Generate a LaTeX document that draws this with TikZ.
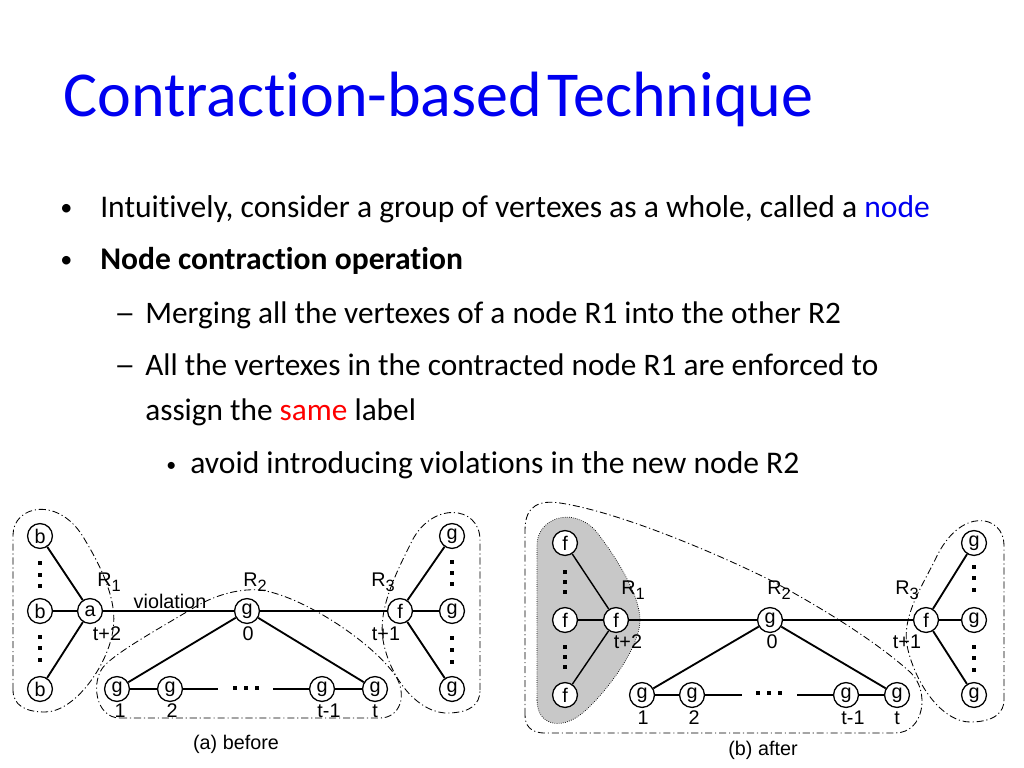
\documentclass[tikz,border=0pt]{standalone}
\usepackage{fontspec}
\setmainfont{Carlito}[Ligatures=NoCommon]
\newfontfamily\diag{Liberation Sans}
\newcommand\Rsub[1]{R\raisebox{-0.45ex}{\fontsize{11.5}{11.5}\selectfont #1}}
\newcommand\sqdot[2]{\fill (#1-2,#2-2) rectangle ++(4,4);}
\definecolor{titleblue}{RGB}{0,0,240}
\definecolor{shade}{RGB}{200,200,200}
\begin{document}
\begin{tikzpicture}[x=0.703125pt,y=-0.703125pt,
  vtx/.style={circle,draw,line width=0.9pt,minimum size=17.5pt,inner sep=0pt,fill=white,
    font=\diag\fontsize{13.9}{14}\selectfont},
  lbl/.style={inner sep=0pt,font=\diag\fontsize{13.9}{14}\selectfont},
  edge/.style={line width=1.3pt},
  region/.style={line width=0.6pt,dash pattern=on 5pt off 2pt on 0.8pt off 2pt},
  body/.style={anchor=base west,inner sep=0pt,font=\fontsize{22.2}{26}\selectfont},
  bul/.style={anchor=base west,inner sep=0pt,font=\fontsize{17}{20}\selectfont},
  sub/.style={anchor=base west,inner sep=0pt,font=\fontsize{22}{26}\selectfont},
  subsub/.style={anchor=base west,inner sep=0pt,font=\fontsize{22.2}{26}\selectfont}]
\useasboundingbox (0,0) rectangle (1024,768);
% ---------- text ----------
\node[anchor=base west,inner sep=0pt,text=titleblue,font=\fontsize{45}{50}\selectfont] (title) at (63,117) {Contraction-based\hspace{4pt}Technique};
\node[bul] (b1) at (60,216) {•};
\node[body] (t1) at (100,218) {Intuitively, consider a group of vertexes as a whole, called a \textcolor{titleblue}{node}};
\node[bul] (b2) at (60,268) {•};
\node[body] (t2) at (100,270) {\bfseries Node contraction operation};
\node[sub] (d3) at (114,323) {\scalebox{1.35}[1]{–}};
\node[sub] (t3) at (145,323) {Merging all the vertexes of a node R1 into the other R2};
\node[sub] (d4) at (114,375) {\scalebox{1.35}[1]{–}};
\node[sub] (t4) at (145,375) {All the vertexes in the contracted node R1 are enforced to};
\node[sub] (t5) at (145,420) {assign the \textcolor{red}{same} label};
\node[bul] (b6) at (166,471) {\fontsize{14}{16}\selectfont •};
\node[subsub] (t6) at (190,473) {avoid introducing violations in the new node R2};
% ---------- (a) regions ----------
\draw[region] (13,690) -- (13,535) .. controls (13,505) and (60,495) .. (85,540)
  .. controls (100,565) and (118,600) .. (113,630) .. controls (108,665) and (75,712) .. (45,712)
  .. controls (25,712) and (13,705) .. (13,690);
\draw[region] (480,690) -- (480,540) .. controls (480,505) and (430,500) .. (410,545)
  .. controls (395,575) and (378,610) .. (383,640) .. controls (390,680) and (420,715) .. (450,713)
  .. controls (470,712) and (480,705) .. (480,690);
\draw[region] (120,718) -- (380,718) .. controls (400,718) and (408,695) .. (395,675)
  .. controls (370,640) and (300,595) .. (260,590) .. controls (235,588) and (210,598) .. (195,607)
  .. controls (160,628) and (120,650) .. (105,665) .. controls (90,680) and (95,718) .. (120,718);
% ---------- (b) regions ----------
\draw[region] (525,715) -- (525,530) .. controls (525,505) and (540,500) .. (560,503)
  .. controls (620,512) and (720,555) .. (770,580) .. controls (830,612) and (880,645) .. (910,672)
  .. controls (930,690) and (925,733) .. (895,733) -- (545,733)
  .. controls (530,733) and (525,725) .. (525,715);
\draw[line width=0.5pt,densely dotted,fill=shade] (537,700) -- (537,545) .. controls (537,520) and (570,505) .. (595,530)
  .. controls (615,555) and (640,595) .. (640,620) .. controls (640,650) and (600,700) .. (580,715)
  .. controls (560,730) and (537,725) .. (537,700);
\draw[region] (1004,700) -- (1004,545) .. controls (1004,515) and (960,505) .. (935,560)
  .. controls (920,590) and (900,620) .. (908,650) .. controls (918,690) and (945,722) .. (970,722)
  .. controls (995,722) and (1004,712) .. (1004,700);
% ---------- (a) nodes ----------
\node[vtx] (ab1) at (40,536) {b};
\node[vtx] (ab2) at (40,611) {b};
\node[vtx] (ab3) at (40,689) {b};
\node[vtx] (aa) at (90,611) {a};
\node[vtx] (ag0) at (247,611) {g};
\node[vtx] (af) at (400,611) {f};
\node[vtx] (ar1) at (452,536) {g};
\node[vtx] (ar2) at (452,611) {g};
\node[vtx] (ar3) at (452,689) {g};
\node[vtx] (ag1) at (117,689) {g};
\node[vtx] (ag2) at (170,689) {g};
\node[vtx] (agt1) at (322,689) {g};
\node[vtx] (agt) at (375,689) {g};
\coordinate (aL) at (218,689);
\coordinate (aR) at (273,689);
\sqdot{40}{563}\sqdot{40}{575}\sqdot{40}{586}
\sqdot{40}{637}\sqdot{40}{648}\sqdot{40}{660}
\sqdot{452}{562}\sqdot{452}{573}\sqdot{452}{584}
\sqdot{452}{638}\sqdot{452}{650}\sqdot{452}{662}
\sqdot{235}{688}\sqdot{246}{688}\sqdot{257}{688}
\draw[edge] (ab1) -- (aa);
\draw[edge] (ab2) -- (aa);
\draw[edge] (ab3) -- (aa);
\draw[edge] (aa) -- (ag0);
\draw[edge] (ag0) -- (af);
\draw[edge] (af) -- (ar1);
\draw[edge] (af) -- (ar2);
\draw[edge] (af) -- (ar3);
\draw[edge] (ag0) -- (ag1);
\draw[edge] (ag0) -- (agt);
\draw[edge] (ag1) -- (ag2);
\draw[edge] (ag2) -- (aL);
\draw[edge] (aR) -- (agt1);
\draw[edge] (agt1) -- (agt);
\node[lbl] (aR1) at (109,582) {\Rsub{1}};
\node[lbl] (aR2) at (255,582) {\Rsub{2}};
\node[lbl] (aR3) at (383,582) {\Rsub{3}};
\node[lbl] (aviol) at (170,601) {violation};
\node[lbl] (alt2) at (107,634) {t+2};
\node[lbl] (al0) at (248,634) {0};
\node[lbl] (alt1) at (386,634) {t+1};
\node[lbl] (al1) at (120,711) {1};
\node[lbl] (al2) at (172,711) {2};
\node[lbl] (altm) at (329,711) {t-1};
\node[lbl] (alt) at (375,711) {t};
\node[lbl] (acap) at (236,744) {(a) before};
% ---------- (b) nodes ----------
\node[vtx] (bf1) at (565,543) {f};
\node[vtx] (bf2) at (565,620) {f};
\node[vtx] (bf3) at (565,695) {f};
\node[vtx] (bfc) at (616,620) {f};
\node[vtx] (bg0) at (770,620) {g};
\node[vtx] (bf) at (926,620) {f};
\node[vtx] (br1) at (974,543) {g};
\node[vtx] (br2) at (974,620) {g};
\node[vtx] (br3) at (974,695) {g};
\node[vtx] (bg1) at (642,695) {g};
\node[vtx] (bg2) at (692,695) {g};
\node[vtx] (bgt1) at (846,695) {g};
\node[vtx] (bgt) at (897,695) {g};
\coordinate (bL) at (742,695);
\coordinate (bR) at (797,695);
\sqdot{565}{572}\sqdot{565}{582}\sqdot{565}{592}
\sqdot{565}{647}\sqdot{565}{657}\sqdot{565}{667}
\sqdot{974}{567}\sqdot{974}{578}\sqdot{974}{590}
\sqdot{974}{647}\sqdot{974}{658}\sqdot{974}{670}
\sqdot{758}{693}\sqdot{769}{693}\sqdot{780}{693}
\draw[edge,line width=1pt] (bf1) -- (bfc);
\draw[edge,line width=1pt] (bf2) -- (bfc);
\draw[edge,line width=1pt] (bf3) -- (bfc);
\draw[edge] (bfc) -- (bg0);
\draw[edge] (bg0) -- (bf);
\draw[edge] (bf) -- (br1);
\draw[edge] (bf) -- (br2);
\draw[edge] (bf) -- (br3);
\draw[edge] (bg0) -- (bg1);
\draw[edge] (bg0) -- (bgt);
\draw[edge] (bg1) -- (bg2);
\draw[edge] (bg2) -- (bL);
\draw[edge] (bR) -- (bgt1);
\draw[edge] (bgt1) -- (bgt);
\node[lbl] (bR1) at (633,590) {\Rsub{1}};
\node[lbl] (bR2) at (779,590) {\Rsub{2}};
\node[lbl] (bR3) at (907,590) {\Rsub{3}};
\node[lbl] (blt2) at (628,642) {t+2};
\node[lbl] (bl0) at (772,642) {0};
\node[lbl] (blt1) at (907,642) {t+1};
\node[lbl] (bl1) at (643,718) {1};
\node[lbl] (bl2) at (694,718) {2};
\node[lbl] (bltm) at (853,718) {t-1};
\node[lbl] (blt) at (897,718) {t};
\node[lbl] (bcap) at (763,750) {(b) after};
\end{tikzpicture}
\end{document}
